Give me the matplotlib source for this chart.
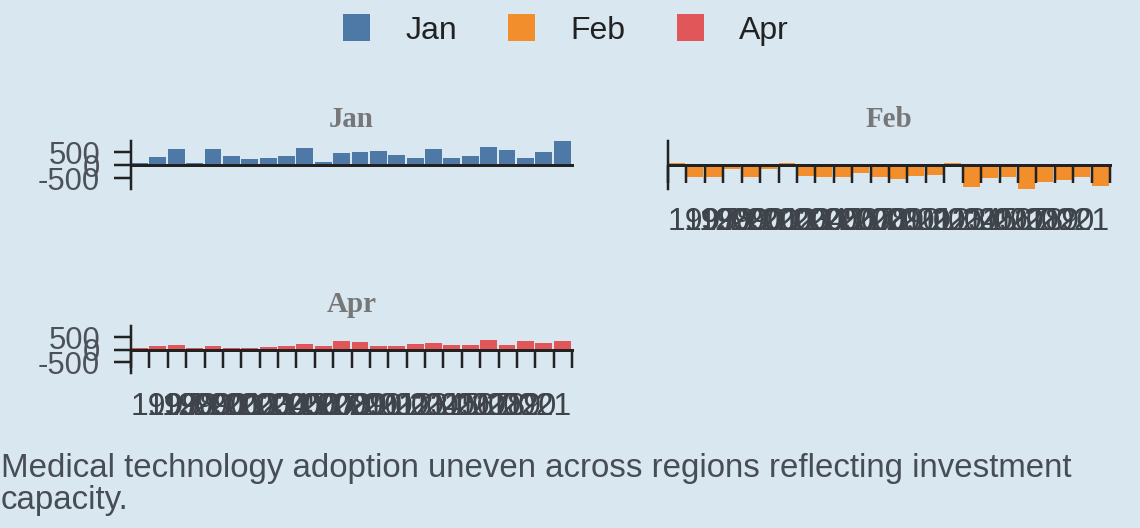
import matplotlib
matplotlib.use('Agg')
import matplotlib.pyplot as plt
import matplotlib.transforms as mtransforms
from matplotlib.patches import Patch

# ---- data ----
years = list(range(1997, 2021))          # each bar spans [year, year+1)
tick_years = list(range(1997, 2022))
series = ['Jan', 'Feb', 'Apr']
jan = [90, 333, 627, 90, 627, 346, 230, 294, 371, 678, 115, 486,
       500, 563, 397, 294, 614, 269, 371, 691, 576, 282, 525, 922]
feb = [90, -448, -448, -154, -448, -154, 90, -422, -474, -474, -320, -474,
       -538, -422, -397, 90, -832, -486, -448, -922, -640, -576, -474, -806]
apr = [70, 154, 166, 80, 141, 85, 85, 115, 128, 243, 154, 346,
       294, 141, 154, 230, 269, 179, 179, 397, 166, 333, 282, 346]
values = {'Jan': jan, 'Feb': feb, 'Apr': apr}
colors = {'Jan': '#4e79a7', 'Feb': '#f28e2b', 'Apr': '#e15759'}
y_ticks = [-500, 0, 500]
caption = ['Medical technology adoption uneven across regions reflecting investment',
           'capacity.']

W, H = 1140, 528
BG = '#d9e7f1'
PT = 72 / 100.0  # px -> pt

plt.rcParams['font.family'] = ['Liberation Sans', 'DejaVu Sans']
plt.rcParams['axes.unicode_minus'] = False

fig = plt.figure(figsize=(W / 100, H / 100), dpi=100)
fig.patch.set_facecolor(BG)
renderer = fig.canvas.get_renderer()


def rect(l, t, r, b):
    return [l / W, 1 - b / H, (r - l) / W, (b - t) / H]


layout = {
    'Jan': rect(131, 141, 572, 189),
    'Feb': rect(668, 141, 1110, 189),
    'Apr': rect(131, 326, 572, 373),
}
show_x = {'Jan': False, 'Feb': True, 'Apr': True}
show_y = {'Jan': True, 'Feb': False, 'Apr': True}

for name in series:
    ax = fig.add_axes(layout[name])
    ax.set_facecolor('none')
    ax.bar(years, values[name], width=0.92, align='edge', color=colors[name],
           linewidth=0, zorder=1)
    ax.set_xlim(1997, 2021)
    ax.set_ylim(-920, 935)
    for s in ['top', 'right']:
        ax.spines[s].set_visible(False)
    ax.spines['bottom'].set_position(('data', 0))
    ax.spines['bottom'].set_linewidth(3 * PT)
    ax.spines['bottom'].set_color('#222222')
    ax.spines['bottom'].set_zorder(3)
    ax.spines['left'].set_linewidth(2.5 * PT)
    ax.spines['left'].set_color('#222222')
    ax.set_xticks(tick_years)
    ax.tick_params(axis='x', length=18 * PT, width=2.5 * PT, color='#222222',
                   bottom=show_x[name], labelbottom=False)
    if show_x[name]:
        n = len(tick_years)
        for i, yr in enumerate(tick_years):
            t = ax.text(yr, 0, str(yr), ha='left', va='baseline',
                        fontsize=32 * PT, color='#3f444a')
            w = t.get_window_extent(renderer).width
            frac = i / (n - 1)
            off = mtransforms.ScaledTranslation(-frac * w / 100, -65 / 100,
                                                fig.dpi_scale_trans)
            t.set_transform(ax.transData + off)
    ax.set_yticks(y_ticks)
    ax.set_yticklabels([str(v) for v in y_ticks])
    ax.tick_params(axis='y', length=17 * PT, width=2.5 * PT, color='#222222',
                   labelsize=31 * PT, labelcolor='#4d5258', pad=14 * PT,
                   left=show_y[name], labelleft=show_y[name])
    l, b, w_, h = layout[name]
    fig.text(l + w_ / 2, b + h + 21 / H, name, ha='center', va='center',
             fontsize=29 * PT, fontweight='bold', color='#777777',
             family=['Liberation Serif', 'DejaVu Serif'])

handles = [Patch(facecolor=colors[n], edgecolor='none', label=n) for n in series]
leg = fig.legend(handles=handles, loc='center', bbox_to_anchor=(566 / W, 1 - 30 / H),
                 ncol=3, frameon=False, fontsize=32 * PT, handlelength=0.84,
                 handleheight=0.9, handletextpad=1.1, columnspacing=1.6,
                 borderaxespad=0, borderpad=0)
for t in leg.get_texts():
    t.set_color('#222222')

fig.text(1 / W, 1 - 476.5 / H, caption[0], ha='left', va='baseline',
         fontsize=33 * PT, color='#474d55')
fig.text(1 / W, 1 - 509 / H, caption[1], ha='left', va='baseline',
         fontsize=33 * PT, color='#474d55')

fig.savefig('out.png', dpi=100, facecolor=BG)
